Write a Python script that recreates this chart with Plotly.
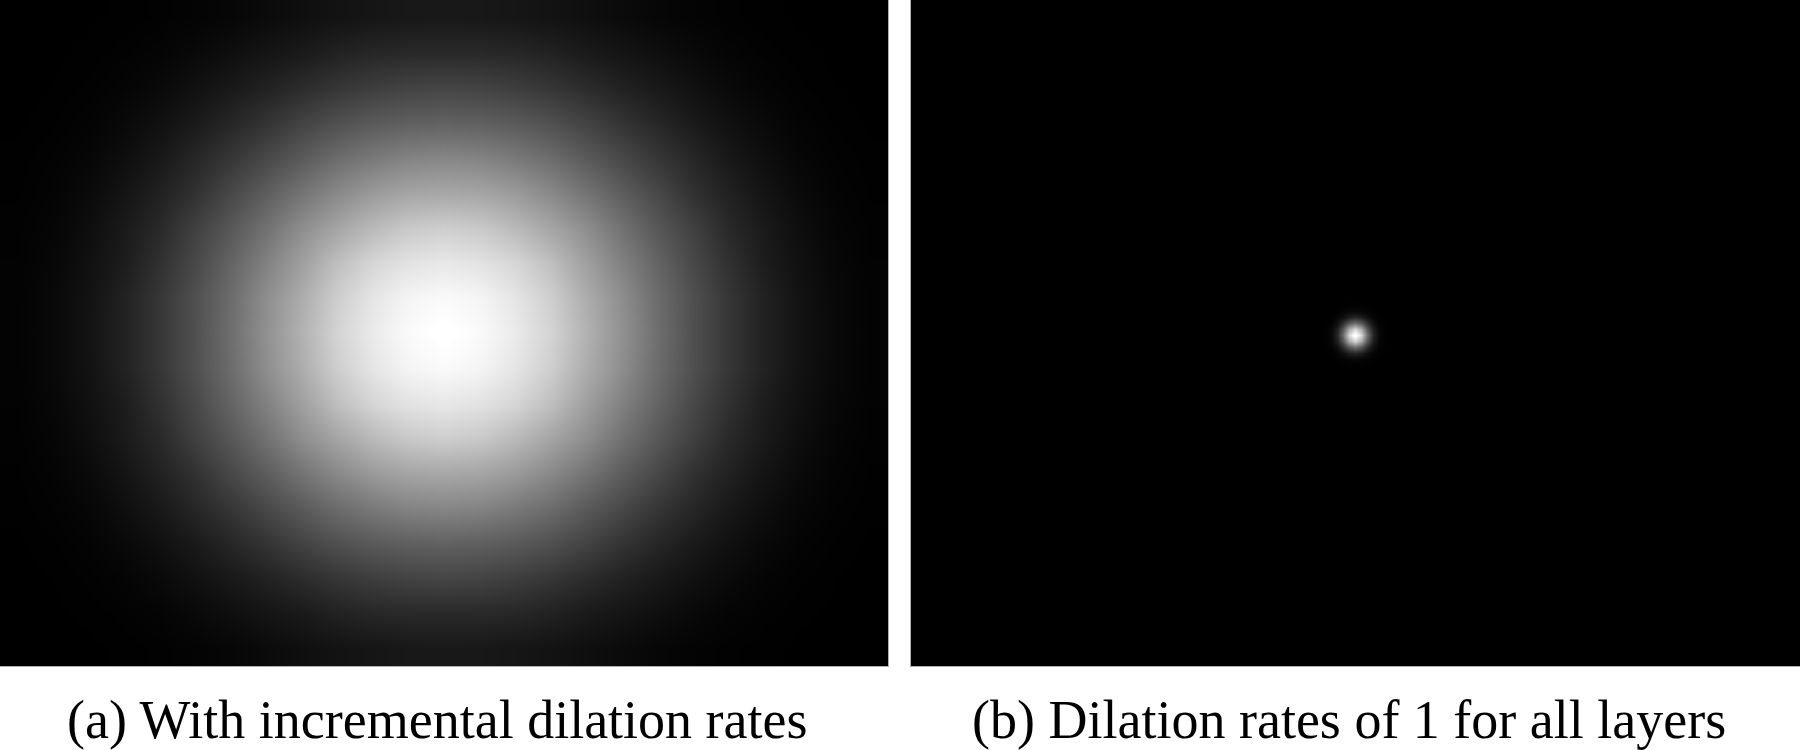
import plotly.graph_objects as go

# (a) artan genişleme oranları: resimden okunan gri seviyeler (0=siyah, 1=beyaz), 25x19 ızgara
erf_incremental = [
    [0, 0, 0.001, 0.003, 0.007, 0.014, 0.024, 0.041, 0.057, 0.072, 0.083, 0.092, 0.095, 0.092, 0.083, 0.072, 0.057, 0.041, 0.024, 0.014, 0.007, 0.003, 0.001, 0, 0],
    [0, 0.001, 0.003, 0.008, 0.017, 0.033, 0.056, 0.079, 0.10, 0.13, 0.15, 0.16, 0.16, 0.16, 0.15, 0.13, 0.10, 0.079, 0.056, 0.033, 0.017, 0.008, 0.003, 0.001, 0],
    [0, 0.002, 0.007, 0.017, 0.036, 0.064, 0.096, 0.13, 0.17, 0.21, 0.24, 0.26, 0.27, 0.26, 0.24, 0.21, 0.17, 0.13, 0.096, 0.064, 0.036, 0.017, 0.007, 0.002, 0],
    [0.001, 0.005, 0.014, 0.033, 0.063, 0.10, 0.15, 0.20, 0.26, 0.31, 0.35, 0.37, 0.38, 0.37, 0.35, 0.31, 0.26, 0.20, 0.15, 0.10, 0.063, 0.033, 0.014, 0.005, 0.001],
    [0.003, 0.010, 0.024, 0.054, 0.094, 0.15, 0.21, 0.28, 0.35, 0.42, 0.47, 0.51, 0.52, 0.51, 0.47, 0.42, 0.35, 0.28, 0.21, 0.15, 0.094, 0.054, 0.024, 0.010, 0.003],
    [0.005, 0.015, 0.039, 0.076, 0.13, 0.19, 0.28, 0.36, 0.45, 0.53, 0.60, 0.64, 0.65, 0.64, 0.60, 0.53, 0.45, 0.36, 0.28, 0.19, 0.13, 0.076, 0.039, 0.015, 0.005],
    [0.008, 0.021, 0.053, 0.10, 0.16, 0.25, 0.34, 0.44, 0.55, 0.64, 0.72, 0.78, 0.80, 0.78, 0.72, 0.64, 0.55, 0.44, 0.34, 0.25, 0.16, 0.10, 0.053, 0.021, 0.008],
    [0.010, 0.027, 0.064, 0.11, 0.19, 0.28, 0.39, 0.50, 0.62, 0.74, 0.83, 0.88, 0.90, 0.88, 0.83, 0.74, 0.62, 0.50, 0.39, 0.28, 0.19, 0.11, 0.064, 0.027, 0.010],
    [0.011, 0.033, 0.071, 0.13, 0.21, 0.31, 0.42, 0.55, 0.67, 0.80, 0.89, 0.95, 0.97, 0.95, 0.89, 0.80, 0.67, 0.55, 0.42, 0.31, 0.21, 0.13, 0.071, 0.033, 0.011],
    [0.012, 0.034, 0.074, 0.13, 0.21, 0.31, 0.43, 0.56, 0.69, 0.82, 0.91, 0.97, 1.00, 0.97, 0.91, 0.82, 0.69, 0.56, 0.43, 0.31, 0.21, 0.13, 0.074, 0.034, 0.012],
    [0.011, 0.033, 0.071, 0.13, 0.21, 0.31, 0.42, 0.55, 0.67, 0.80, 0.89, 0.95, 0.97, 0.95, 0.89, 0.80, 0.67, 0.55, 0.42, 0.31, 0.21, 0.13, 0.071, 0.033, 0.011],
    [0.010, 0.027, 0.064, 0.11, 0.19, 0.28, 0.39, 0.50, 0.62, 0.74, 0.83, 0.88, 0.90, 0.88, 0.83, 0.74, 0.62, 0.50, 0.39, 0.28, 0.19, 0.11, 0.064, 0.027, 0.010],
    [0.008, 0.021, 0.053, 0.10, 0.16, 0.25, 0.34, 0.44, 0.55, 0.64, 0.72, 0.78, 0.80, 0.78, 0.72, 0.64, 0.55, 0.44, 0.34, 0.25, 0.16, 0.10, 0.053, 0.021, 0.008],
    [0.005, 0.015, 0.039, 0.076, 0.13, 0.19, 0.28, 0.36, 0.45, 0.53, 0.60, 0.64, 0.65, 0.64, 0.60, 0.53, 0.45, 0.36, 0.28, 0.19, 0.13, 0.076, 0.039, 0.015, 0.005],
    [0.003, 0.010, 0.024, 0.054, 0.094, 0.15, 0.21, 0.28, 0.35, 0.42, 0.47, 0.51, 0.52, 0.51, 0.47, 0.42, 0.35, 0.28, 0.21, 0.15, 0.094, 0.054, 0.024, 0.010, 0.003],
    [0.001, 0.005, 0.014, 0.033, 0.063, 0.10, 0.15, 0.20, 0.26, 0.31, 0.35, 0.37, 0.38, 0.37, 0.35, 0.31, 0.26, 0.20, 0.15, 0.10, 0.063, 0.033, 0.014, 0.005, 0.001],
    [0, 0.002, 0.007, 0.017, 0.036, 0.064, 0.096, 0.13, 0.17, 0.21, 0.24, 0.26, 0.27, 0.26, 0.24, 0.21, 0.17, 0.13, 0.096, 0.064, 0.036, 0.017, 0.007, 0.002, 0],
    [0, 0.001, 0.003, 0.008, 0.017, 0.033, 0.056, 0.079, 0.10, 0.13, 0.15, 0.16, 0.16, 0.16, 0.15, 0.13, 0.10, 0.079, 0.056, 0.033, 0.017, 0.008, 0.003, 0.001, 0],
    [0, 0, 0.001, 0.003, 0.007, 0.014, 0.024, 0.041, 0.057, 0.072, 0.083, 0.092, 0.095, 0.092, 0.083, 0.072, 0.057, 0.041, 0.024, 0.014, 0.007, 0.003, 0.001, 0, 0],
]
cols_a = list(range(25))
rows_a = list(range(19))

# (b) tüm katmanlarda genişleme 1: ortadaki küçük parlak nokta, 11x11 ızgara (6 px adım)
erf_dilation1 = [
    [0, 0.0001, 0.0005, 0.0016, 0.003, 0.004, 0.003, 0.0016, 0.0005, 0.0001, 0],
    [0.0001, 0.0008, 0.004, 0.012, 0.023, 0.029, 0.023, 0.012, 0.004, 0.0008, 0.0001],
    [0.0005, 0.004, 0.018, 0.056, 0.11, 0.14, 0.11, 0.056, 0.018, 0.004, 0.0005],
    [0.0016, 0.012, 0.056, 0.17, 0.33, 0.41, 0.33, 0.17, 0.056, 0.012, 0.0016],
    [0.003, 0.023, 0.11, 0.33, 0.64, 0.80, 0.64, 0.33, 0.11, 0.023, 0.003],
    [0.004, 0.029, 0.14, 0.41, 0.80, 1.00, 0.80, 0.41, 0.14, 0.029, 0.004],
    [0.003, 0.023, 0.11, 0.33, 0.64, 0.80, 0.64, 0.33, 0.11, 0.023, 0.003],
    [0.0016, 0.012, 0.056, 0.17, 0.33, 0.41, 0.33, 0.17, 0.056, 0.012, 0.0016],
    [0.0005, 0.004, 0.018, 0.056, 0.11, 0.14, 0.11, 0.056, 0.018, 0.004, 0.0005],
    [0.0001, 0.0008, 0.004, 0.012, 0.023, 0.029, 0.023, 0.012, 0.004, 0.0008, 0.0001],
    [0, 0.0001, 0.0005, 0.0016, 0.003, 0.004, 0.003, 0.0016, 0.0005, 0.0001, 0],
]
cols_b = [414, 420, 426, 432, 438, 444, 450, 456, 462, 468, 474]
rows_b = [305, 311, 317, 323, 329, 335, 341, 347, 353, 359, 365]

captions = ["(a) With incremental dilation rates", "(b) Dilation rates of 1 for all layers"]

gray = [[0, "black"], [1, "white"]]

fig = go.Figure()

fig.add_trace(go.Heatmap(
    z=erf_incremental, x=cols_a, y=rows_a,
    colorscale=gray, zmin=0, zmax=0.99, zsmooth="best",
    showscale=False, hoverinfo="skip",
    xaxis="x", yaxis="y",
))

fig.add_trace(go.Heatmap(
    z=erf_dilation1, x=cols_b, y=rows_b,
    colorscale=gray, zmin=0, zmax=0.95, zsmooth="best",
    showscale=False, hoverinfo="skip",
    xaxis="x2", yaxis="y2",
))

eksen = dict(showgrid=False, zeroline=False, showticklabels=False, ticks="",
             showline=True, linecolor="#b0b0b0", linewidth=1, mirror=True)

fig.update_layout(
    width=1800, height=750,
    margin=dict(l=0, r=0, t=0, b=0),
    paper_bgcolor="white",
    plot_bgcolor="black",
    xaxis=dict(domain=[0, 888 / 1800], range=[-0.5, 24.5], **eksen),
    yaxis=dict(domain=[84 / 750, 1], range=[18.5, -0.5], **eksen),
    xaxis2=dict(domain=[911 / 1800, 1], range=[0, 889], anchor="y2", **eksen),
    yaxis2=dict(domain=[84 / 750, 1], range=[666, 0], anchor="x2", **eksen),
    showlegend=False,
)

for txt, xc in zip(captions, [437 / 1800, 1349 / 1800]):
    fig.add_annotation(
        text=txt, x=xc, y=-0.003, xref="paper", yref="paper",
        xanchor="center", yanchor="bottom", showarrow=False,
        font=dict(family="Liberation Serif", size=54, color="black"),
    )

# sayfa kenar boşluğunu sıfırla (body varsayılan 8px)
fig.write_html("out.html", config={"displayModeBar": False},
               post_script="document.body.style.margin='0';")
